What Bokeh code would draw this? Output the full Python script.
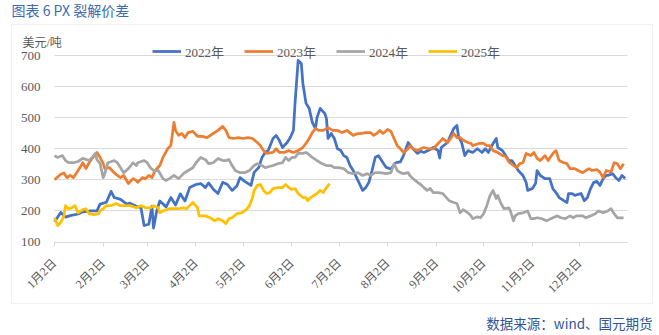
import math
import pandas as pd
from bokeh.plotting import figure
from bokeh.models import Range1d, FixedTicker, Label, Legend, LegendItem, BoxAnnotation
from bokeh.embed import file_html
from bokeh.resources import INLINE

# ---------------- data ----------------
title_text = "图表 6 PX 裂解价差"
unit_text = "美元/吨"
source_text = "数据来源：wind、国元期货"
series_names = ["2022年", "2023年", "2024年", "2025年"]
series_colors = ["#4472C4", "#ED7D31", "#A5A5A5", "#FFC000"]

tick_dates = ["01-02", "02-02", "03-02", "04-02", "05-02", "06-02",
              "07-02", "08-02", "09-02", "10-02", "11-02", "12-02"]
tick_labels = ["1月2日", "2月2日", "3月2日", "4月2日", "5月2日", "6月2日",
               "7月2日", "8月2日", "9月2日", "10月2日", "11月2日", "12月2日"]
y_ticks = [100, 200, 300, 400, 500, 600, 700]

dates_2022 = [
    "01-02", "01-06", "01-09", "01-12", "01-17", "01-20", "01-25", "01-29", "01-31",
    "02-04", "02-07", "02-09", "02-13", "02-17", "02-19", "02-23", "02-26", "02-28",
    "03-03", "03-05", "03-06", "03-08", "03-10", "03-14", "03-17", "03-20", "03-23", "03-26", "03-29",
    "04-02", "04-05", "04-08", "04-10", "04-13", "04-16", "04-19", "04-22", "04-25", "04-28", "04-30",
    "05-03", "05-07", "05-09", "05-12", "05-14", "05-16", "05-18", "05-21", "05-23", "05-25", "05-27", "05-30",
    "06-01", "06-03", "06-04", "06-06", "06-08", "06-09", "06-11", "06-13", "06-15", "06-17", "06-18", "06-20",
    "06-23", "06-24", "06-25", "06-27", "06-29",
    "07-01", "07-03", "07-05", "07-07", "07-09", "07-11", "07-14", "07-17", "07-19", "07-21", "07-23", "07-25",
    "07-27", "07-30",
    "08-01", "08-04", "08-07", "08-10", "08-12", "08-15", "08-18", "08-21", "08-23", "08-25", "08-28", "08-31",
    "09-03", "09-04", "09-05", "09-09", "09-11", "09-13", "09-15", "09-16", "09-18", "09-20", "09-22", "09-25", "09-28",
    "10-01", "10-03", "10-05", "10-08", "10-10", "10-11", "10-14", "10-16", "10-18", "10-20", "10-22", "10-24",
    "10-27", "10-29", "10-30",
    "11-02", "11-04", "11-05", "11-07", "11-10", "11-13", "11-15", "11-17", "11-19", "11-22", "11-24", "11-25",
    "11-27", "11-29",
    "12-03", "12-05", "12-07", "12-09", "12-11", "12-13", "12-15", "12-17", "12-19", "12-20", "12-23", "12-25",
    "12-27", "12-29", "12-31",
]
values_2022 = [
    165, 195, 180, 185, 190, 197, 200, 200, 222,
    228, 263, 243, 237, 222, 225, 215, 210, 153,
    157, 215, 145, 200, 232, 213, 243, 219, 255, 232, 275,
    285, 288, 275, 290, 270, 256, 292, 285, 266, 280, 307,
    295, 282, 324, 340, 372, 388, 395, 433, 443, 427, 404, 420,
    436, 459, 546, 684, 674, 610, 546, 530, 485, 465, 500, 530,
    513, 497, 433, 449, 433,
    400, 395, 378, 372, 346, 330, 298, 266, 275, 292, 330, 372,
    378, 355,
    340, 335, 355, 358, 378, 420, 400, 385, 392, 388, 395, 404,
    394, 370, 404, 420, 443, 465, 475, 440, 420, 378, 394, 388, 400,
    388, 400, 388, 417, 433, 404, 394, 378, 362, 362, 346, 330,
    314, 292, 266,
    272, 288, 330, 314, 304, 304, 272, 259, 243, 233, 227, 256,
    256, 250,
    256, 233, 243, 272, 292, 295, 282, 304, 314, 314, 320, 307,
    298, 314, 304,
]

dates_2023 = [
    "01-02", "01-06", "01-08", "01-10", "01-12", "01-14", "01-17", "01-19", "01-20", "01-22", "01-24", "01-26",
    "01-29", "01-31",
    "02-02", "02-03", "02-06", "02-09", "02-11", "02-13", "02-15", "02-18", "02-21", "02-23", "02-24", "02-27",
    "03-01", "03-03", "03-05", "03-07", "03-10", "03-12", "03-15", "03-17", "03-19", "03-20", "03-22", "03-24",
    "03-26", "03-28", "03-31",
    "04-03", "04-06", "04-09", "04-13", "04-16", "04-19", "04-21", "04-23", "04-26", "04-29",
    "05-02", "05-05", "05-08", "05-11", "05-13", "05-15", "05-17", "05-21", "05-23", "05-25", "05-28", "05-31",
    "06-03", "06-06", "06-09", "06-11", "06-13", "06-15", "06-17", "06-19", "06-22", "06-25", "06-28",
    "07-01", "07-04", "07-07", "07-11", "07-14", "07-16", "07-19", "07-22", "07-24", "07-26", "07-28", "07-30",
    "08-02", "08-04", "08-06", "08-08", "08-10", "08-12", "08-15", "08-16", "08-18", "08-21", "08-23", "08-25",
    "08-28", "08-31",
    "09-03", "09-05", "09-06", "09-09", "09-11", "09-13", "09-15", "09-17", "09-19", "09-22", "09-24", "09-25",
    "09-29",
    "10-02", "10-04", "10-06", "10-08", "10-11", "10-14", "10-16", "10-18", "10-21", "10-23", "10-25", "10-27",
    "10-29",
    "11-01", "11-03", "11-05", "11-07", "11-10", "11-12", "11-15", "11-17", "11-19", "11-22", "11-24", "11-26",
    "11-29",
    "12-01", "12-04", "12-06", "12-08", "12-10", "12-13", "12-15", "12-17", "12-19", "12-22", "12-24", "12-26",
    "12-28", "12-30",
]
values_2023 = [
    300, 318, 322, 307, 314, 307, 330, 346, 355, 336, 355, 369,
    388, 372,
    352, 336, 339, 323, 314, 307, 314, 288, 304, 298, 292, 307,
    304, 314, 307, 330, 346, 372, 400, 410, 485, 459, 443, 449,
    436, 452, 456,
    440, 440, 436, 449, 459, 472, 459, 436, 433, 436,
    433, 436, 433, 420, 410, 394, 385, 388, 400, 388, 388, 394,
    388, 394, 404, 417, 433, 452, 465, 459, 459, 468, 459,
    459, 452, 459, 443, 449, 449, 452, 452, 443, 449, 459, 449,
    462, 456, 433, 410, 400, 388, 400, 410, 400, 394, 400, 404,
    400, 400,
    417, 427, 433, 420, 433, 449, 436, 436, 427, 420, 417, 410,
    417,
    417, 410, 410, 394, 388, 378, 375, 358, 346, 339, 352, 355,
    385,
    378, 388, 369, 362, 378, 362, 385, 394, 362, 355, 352, 336,
    336,
    330, 323, 330, 336, 330, 333, 324, 307, 330, 325, 355, 352,
    336, 352,
]

dates_2024 = [
    "01-02", "01-04", "01-07", "01-09", "01-11", "01-14", "01-17", "01-20", "01-24", "01-26", "01-28", "01-29",
    "01-31",
    "02-02", "02-03", "02-05", "02-09", "02-11", "02-13", "02-15", "02-18", "02-21", "02-23", "02-24", "02-28",
    "03-02", "03-04", "03-06", "03-09", "03-12", "03-14", "03-16", "03-19", "03-22", "03-25", "03-28", "03-31",
    "04-02", "04-05", "04-08", "04-10", "04-13", "04-16", "04-19", "04-21", "04-23", "04-25", "04-27", "04-30",
    "05-03", "05-06", "05-09", "05-11", "05-14", "05-16", "05-18", "05-21", "05-24", "05-27", "05-29", "05-31",
    "06-02", "06-04", "06-06", "06-09", "06-11", "06-13", "06-15", "06-18", "06-20", "06-24", "06-27", "06-29",
    "07-02", "07-05", "07-08", "07-11", "07-14", "07-17", "07-20", "07-22", "07-25", "07-28",
    "08-01", "08-04", "08-06", "08-08", "08-10", "08-12", "08-15", "08-16", "08-18", "08-21", "08-23", "08-25",
    "08-27", "08-29", "08-31",
    "09-03", "09-06", "09-07", "09-10", "09-13", "09-15", "09-17", "09-19", "09-22", "09-24", "09-25", "09-28",
    "09-30",
    "10-02", "10-04", "10-06", "10-08", "10-10", "10-11", "10-13", "10-15", "10-18", "10-19", "10-21", "10-22",
    "10-24", "10-27", "10-30",
    "11-01", "11-03", "11-05", "11-08", "11-11", "11-15", "11-18", "11-20", "11-23", "11-26", "11-28", "11-30",
    "12-04", "12-06", "12-09", "12-12", "12-14", "12-17", "12-20", "12-22", "12-24", "12-26", "12-28", "12-30",
]
values_2024 = [
    378, 372, 378, 362, 355, 355, 359, 369, 362, 372, 385, 365,
    352,
    307, 320, 355, 362, 355, 339, 323, 336, 355, 346, 355, 362,
    355, 339, 330, 330, 304, 298, 304, 314, 304, 320, 330, 339,
    355, 372, 365, 352, 355, 369, 362, 362, 365, 346, 330, 323,
    323, 330, 346, 352, 346, 339, 342, 346, 352, 355, 372, 362,
    372, 372, 385, 385, 388, 381, 372, 362, 355, 346, 346, 339,
    339, 336, 323, 320, 323, 314, 320, 314, 323, 323,
    320, 323, 352, 330, 323, 320, 323, 314, 304, 292, 285, 275,
    266, 272, 259,
    259, 256, 250, 233, 227, 224, 194, 204, 194, 184, 175, 181,
    178,
    191, 217, 249, 266, 240, 250, 224, 207, 210, 200, 168, 184,
    191, 194, 200,
    175, 175, 178, 175, 168, 178, 184, 178, 175, 184, 178, 184,
    184, 178, 184, 191, 200, 194, 200, 207, 191, 178, 178, 178,
]

dates_2025 = [
    "01-02", "01-04", "01-06", "01-08", "01-09", "01-11", "01-13", "01-15", "01-17", "01-20", "01-22", "01-24",
    "01-27", "01-30", "01-31",
    "02-02", "02-04", "02-07", "02-10", "02-13", "02-16", "02-19", "02-23", "02-26",
    "03-01", "03-04", "03-06", "03-09", "03-10", "03-12", "03-16", "03-19", "03-22", "03-25", "03-27", "03-29",
    "03-31",
    "04-03", "04-04", "04-06", "04-08", "04-11", "04-14", "04-16", "04-19", "04-21", "04-23", "04-25", "04-28",
    "05-01", "05-04", "05-06", "05-08", "05-09", "05-11", "05-13", "05-15", "05-17", "05-19", "05-21", "05-24",
    "05-27", "05-29", "05-31",
    "06-02", "06-04", "06-06", "06-09", "06-11", "06-12", "06-14", "06-16", "06-18", "06-20", "06-22", "06-24",
    "06-26",
]
values_2025 = [
    178, 153, 163, 184, 217, 207, 210, 217, 194, 204, 207, 191,
    188, 191, 200,
    207, 217, 217, 224, 217, 217, 217, 210, 217,
    210, 210, 217, 210, 194, 200, 207, 207, 207, 210, 207, 217,
    227,
    210, 184, 184, 184, 178, 168, 175, 168, 159, 175, 178, 191,
    194, 204, 217, 243, 266, 282, 285, 266, 256, 259, 272, 275,
    275, 285, 275,
    269, 272, 256, 243, 243, 233, 243, 250, 256, 266, 259, 275,
    288,
]

# ---------------- helpers ----------------
REF_YEAR = "2023"
ORIGIN = pd.Timestamp(f"{REF_YEAR}-01-02")


def to_day(md):
    return int((pd.Timestamp(f"{REF_YEAR}-{md}") - ORIGIN).days)


all_dates = [dates_2022, dates_2023, dates_2024, dates_2025]
all_values = [values_2022, values_2023, values_2024, values_2025]
for d, v in zip(all_dates, all_values):
    assert len(d) == len(v), (len(d), len(v))

W, H = 659, 335
# plot area in canvas pixels (frame covers the whole canvas, axes are fixed inside it)
PL, PR, PT, PB = 54.0, 627.0, 55.0, 241.5
X0, X1 = 0.0, 364.5          # day range of the plot area
Y0, Y1 = 100.0, 700.0        # value range of the plot area
dx = (X1 - X0) / (PR - PL)
dy = (Y1 - Y0) / (PB - PT)
x_range = Range1d(X0 - PL * dx, X1 + (W - PR) * dx)
y_range = Range1d(Y0 - (H - PB) * dy, Y1 + PT * dy)

GRID = "#D9D9D9"
TXT = "#595959"
SERIF = "Liberation Serif, Noto Sans CJK SC"
SANS = "Noto Sans CJK SC"

p = figure(width=W, height=H, output_backend="svg", toolbar_location=None,
           x_range=x_range, y_range=y_range,
           min_border_left=0, min_border_right=0, min_border_top=0, min_border_bottom=0)
p.outline_line_color = None
p.background_fill_color = "white"
p.border_fill_color = "white"

# axes (fixed at the plot-area edges)
tick_days = [to_day(t) for t in tick_dates]
p.xaxis.fixed_location = Y0
p.xaxis.bounds = (X0, X1)
p.xaxis.ticker = FixedTicker(ticks=tick_days)
p.xaxis.major_label_overrides = {d: lab for d, lab in zip(tick_days, tick_labels)}
p.xaxis.major_label_orientation = math.pi / 4
p.xaxis.axis_line_color = GRID
p.xaxis.major_tick_line_color = GRID
p.xaxis.major_tick_out = 4
p.xaxis.major_tick_in = 0
p.xaxis.minor_tick_line_color = None
p.xaxis.major_label_standoff = 15
p.xaxis.major_label_text_font = SERIF
p.xaxis.major_label_text_font_size = "12px"
p.xaxis.major_label_text_color = TXT

p.yaxis.fixed_location = X0
p.yaxis.bounds = (Y0, Y1)
p.yaxis.ticker = FixedTicker(ticks=y_ticks)
p.yaxis.axis_line_color = None
p.yaxis.major_tick_line_color = None
p.yaxis.minor_tick_line_color = None
p.yaxis.major_label_standoff = 8
p.yaxis.major_label_text_font = SERIF
p.yaxis.major_label_text_font_size = "13px"
p.yaxis.major_label_text_color = TXT

p.xgrid.visible = False
p.ygrid.ticker = FixedTicker(ticks=y_ticks)
grid_done = False
try:
    p.ygrid.cross_bounds = (X0, X1)
    p.ygrid.grid_line_color = GRID
    grid_done = True
except Exception:
    p.ygrid.visible = False
if not grid_done:
    p.multi_line([[X0, X1] for _ in y_ticks[1:]], [[t, t] for t in y_ticks[1:]],
                 line_color=GRID, line_width=1)

# series
renderers = []
for d, v, c in zip(all_dates, all_values, series_colors):
    r = p.line([to_day(x) for x in d], v, line_color=c, line_width=2.75, line_join="round")
    renderers.append(r)

# legend (screen units measured from the canvas bottom-left)
legend = Legend(items=[LegendItem(label=n, renderers=[r]) for n, r in zip(series_names, renderers)],
                location=(152, H - 61), orientation="horizontal",
                glyph_width=29, glyph_height=20, label_standoff=4, label_width=59, label_height=20,
                spacing=0, padding=0, margin=0,
                border_line_color=None, background_fill_alpha=0,
                label_text_font=SERIF, label_text_font_size="13px", label_text_color=TXT)
p.add_layout(legend, "center")

# outer frame box
box = BoxAnnotation(left=11, right=652, top=H - 24, bottom=H - 303,
                    left_units="screen", right_units="screen", top_units="screen", bottom_units="screen",
                    fill_alpha=0, line_color="#D0D0D0", line_width=1)
p.add_layout(box)

p.add_layout(Label(x=11, y=H - 9.5, x_units="screen", y_units="screen", text=title_text,
                   text_baseline="middle", text_font=SANS, text_font_size="14px", text_color="#3B6BB0"))
p.add_layout(Label(x=22, y=H - 42, x_units="screen", y_units="screen", text=unit_text,
                   text_baseline="middle", text_font=SERIF, text_font_size="12px", text_color=TXT))
p.add_layout(Label(x=652, y=H - 322, x_units="screen", y_units="screen", text=source_text,
                   text_align="right", text_baseline="middle", text_font=SANS,
                   text_font_size="13.5px", text_color="#2F5597"))

open("out.html", "w").write(file_html(p, INLINE))
